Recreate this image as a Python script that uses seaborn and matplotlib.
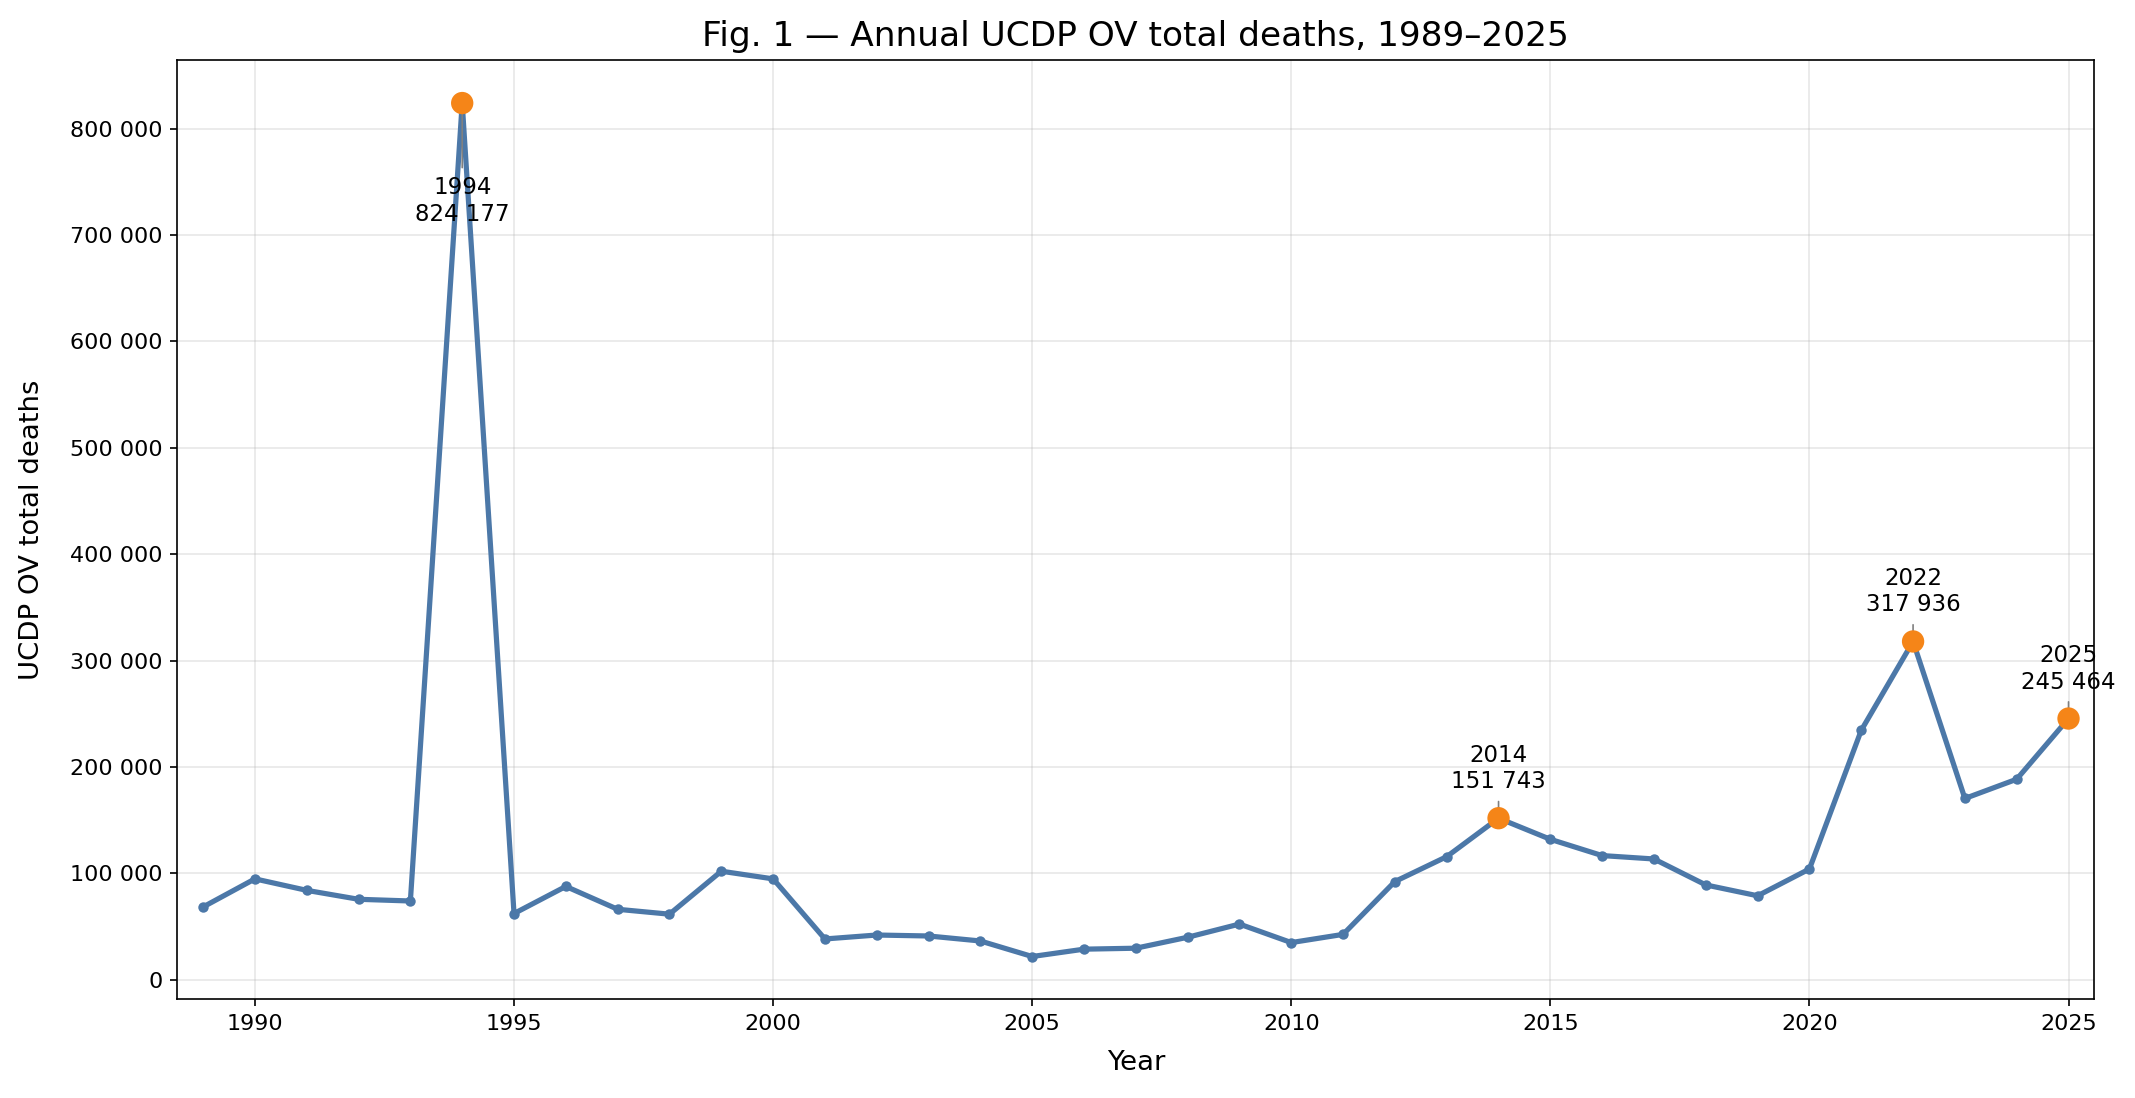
import seaborn as sns
import matplotlib.pyplot as plt
import matplotlib.ticker as mticker
import pandas as pd

years = list(range(1989, 2026))
deaths = [68300, 94700, 83900, 75500, 73900, 824177, 62100, 87600, 66100, 61500,
          101900, 94700, 38200, 41900, 41000, 36300, 21700, 28600, 29500, 39800,
          52200, 34800, 42500, 92200, 115600, 151743, 131900, 116600, 113400, 89000,
          78800, 104000, 234400, 317936, 170300, 188400, 245464]

peak_years = [1994, 2014, 2022, 2025]
label_offsets = [(0, -35), (0, 12), (0, 12), (0, 12)]

df = pd.DataFrame({"Year": years, "Deaths": deaths})
peaks = df[df["Year"].isin(peak_years)]

line_color = "#4C78A8"
peak_color = "#F58518"

fig, ax = plt.subplots(figsize=(2135 / 150, 1098 / 150), dpi=150)
fig.subplots_adjust(left=0.083, right=0.981, top=0.945, bottom=0.090)

sns.lineplot(data=df, x="Year", y="Deaths", color=line_color, linewidth=2.5,
             marker="o", markersize=5, markeredgewidth=0, ax=ax)
sns.scatterplot(data=peaks, x="Year", y="Deaths", color=peak_color, s=115,
                edgecolor="none", zorder=5, ax=ax)

for (_, row), off in zip(peaks.iterrows(), label_offsets):
    yr = int(row["Year"])
    val = int(row["Deaths"])
    txt = f"{yr}\n{val:,}".replace(",", " ")
    ax.annotate(txt, xy=(yr, val), xytext=off, textcoords="offset points",
                ha="center", va="top" if off[1] < 0 else "bottom", fontsize=11,
                arrowprops=dict(arrowstyle="-", color="gray", lw=0.8))

ax.set_xlim(1988.5, 2025.5)
ax.set_xticks(range(1990, 2026, 5))
ax.yaxis.set_major_formatter(mticker.FuncFormatter(lambda v, p: f"{v:,.0f}".replace(",", " ")))
ax.grid(True, alpha=0.3)
ax.tick_params(labelsize=10.7)
ax.set_xlabel("Year", fontsize=13.2, labelpad=8)
ax.set_ylabel("UCDP OV total deaths", fontsize=13.2, labelpad=12)
ax.set_title("Fig. 1 — Annual UCDP OV total deaths, 1989–2025", fontsize=16.5, pad=7)

plt.savefig("out.png", dpi=150)
